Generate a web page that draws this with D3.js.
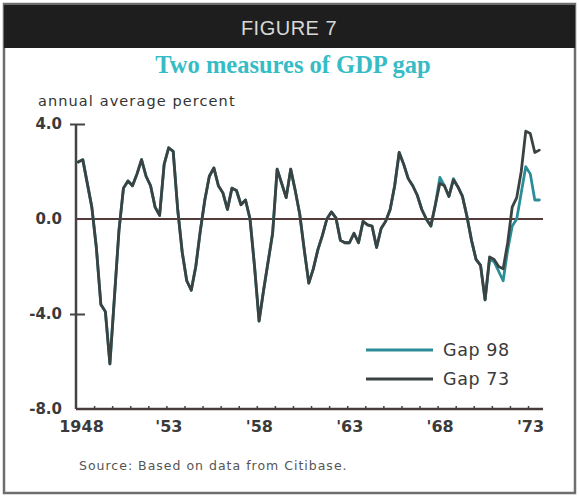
<!DOCTYPE html>
<html>
<head>
<meta charset="utf-8">
<script src="https://cdn.jsdelivr.net/npm/d3@7"></script>
<style>
  html, body { margin: 0; padding: 0; background: #fff; }
  svg { display: block; }
</style>
</head>
<body>
<svg id="chart" width="579" height="496"></svg>
<script>
// quarterly values, 1948Q1 .. 1973Q3
const startYear = 1948;
const gap73 = [
  2.4, 2.5, 1.5, 0.5,      // 1948
  -1.2, -3.6, -3.9, -6.1,  // 1949
  -3.3, -0.5, 1.3, 1.6,    // 1950
  1.4, 1.9, 2.5, 1.8,      // 1951
  1.4, 0.5, 0.15, 2.3,     // 1952
  3.0, 2.85, 0.4, -1.4,    // 1953
  -2.6, -3.0, -2.0, -0.5,  // 1954
  0.8, 1.8, 2.15, 1.4,     // 1955
  1.1, 0.4, 1.3, 1.2,      // 1956
  0.6, 0.8, 0.0, -2.0,     // 1957
  -4.3, -3.0, -1.8, -0.6,  // 1958
  2.1, 1.5, 0.9, 2.1,      // 1959
  1.2, 0.2, -1.3, -2.7,    // 1960
  -2.1, -1.3, -0.7, 0.0,   // 1961
  0.3, 0.05, -0.9, -1.0,   // 1962
  -1.0, -0.6, -1.0, -0.1,  // 1963
  -0.25, -0.3, -1.2, -0.4, // 1964
  -0.1, 0.4, 1.4, 2.8,     // 1965
  2.3, 1.7, 1.4, 1.0,      // 1966
  0.4, 0.0, -0.3, 0.6,     // 1967
  1.5, 1.4, 0.95, 1.65,    // 1968
  1.35, 0.95, 0.1, -0.9,   // 1969
  -1.7, -1.95, -3.4, -1.6, // 1970
  -1.7, -2.0, -2.1, -1.0,  // 1971
  0.5, 0.9, 2.0, 3.7,      // 1972
  3.6, 2.8, 2.9            // 1973
];
const gap98 = [
  2.4, 2.5, 1.5, 0.5,
  -1.2, -3.6, -3.9, -6.1,
  -3.3, -0.5, 1.3, 1.6,
  1.4, 1.9, 2.5, 1.8,
  1.4, 0.5, 0.15, 2.3,
  3.0, 2.85, 0.4, -1.4,
  -2.6, -3.0, -2.0, -0.5,
  0.8, 1.8, 2.15, 1.4,
  1.1, 0.4, 1.3, 1.2,
  0.6, 0.8, 0.0, -2.0,
  -4.3, -3.0, -1.8, -0.6,
  2.1, 1.5, 0.9, 2.1,
  1.2, 0.2, -1.3, -2.7,
  -2.1, -1.3, -0.7, 0.0,
  0.3, 0.05, -0.9, -1.0,
  -1.0, -0.6, -1.0, -0.1,
  -0.25, -0.3, -1.2, -0.4,
  -0.1, 0.4, 1.4, 2.8,
  2.3, 1.7, 1.4, 1.0,
  0.4, 0.0, -0.3, 0.6,
  1.75, 1.4, 0.95, 1.7,
  1.35, 0.95, 0.1, -0.9,
  -1.7, -1.95, -3.4, -1.7,
  -1.8, -2.2, -2.6, -1.3,
  -0.3, 0.0, 1.1, 2.2,
  1.9, 0.8, 0.8
];
const yTicks = [4, 0, -4, -8];
const yearLabels = [1948, 1953, 1958, 1963, 1968, 1973];
const seriesNames = ['Gap 98', 'Gap 73'];
const seriesColors = ['#2b8d97', '#3b4242'];

const svg = d3.select('#chart');

// frame + header
svg.append('rect').attr('x', 4).attr('y', 4).attr('width', 571).attr('height', 489)
  .attr('fill', '#fff').attr('stroke', '#6e6e6e').attr('stroke-width', 2.5);
svg.append('rect').attr('x', 4).attr('y', 5).attr('width', 571).attr('height', 43)
  .attr('fill', '#1e1e1e');
svg.append('text').attr('x', 289).attr('y', 35).attr('text-anchor', 'middle')
  .attr('font-family', '"Liberation Sans Narrow", "Liberation Sans", sans-serif')
  .attr('font-size', 20).attr('fill', '#d8d8d8').attr('letter-spacing', 0.5)
  .text('FIGURE 7');
svg.append('text').attr('x', 293).attr('y', 73).attr('text-anchor', 'middle')
  .attr('font-family', '"Liberation Serif", serif').attr('font-weight', 'bold')
  .attr('font-size', 24.5).attr('fill', '#36bcc6')
  .text('Two measures of GDP gap');
svg.append('text').attr('x', 38).attr('y', 106)
  .attr('font-family', '"DejaVu Sans", sans-serif').attr('font-size', 14.5).attr('fill', '#333')
  .attr('letter-spacing', 1.1)
  .text('annual average percent');

const x = d3.scaleLinear().domain([1948, 1974]).range([76, 546.1]);
const y = d3.scaleLinear().domain([-8, 4]).range([409, 124]);
const xEnd = x(1973.83);

// y axis
const gy = svg.append('g').attr('transform', `translate(${x(1948)},0)`)
  .call(d3.axisLeft(y).tickValues(yTicks).tickSize(0).tickPadding(14)
    .tickFormat(d => d.toFixed(1)));
gy.select('.domain').remove();
gy.selectAll('text').attr('font-family', '"DejaVu Sans", sans-serif')
  .attr('font-size', 15).attr('font-weight', 'bold').attr('fill', '#3a3a3a');
gy.selectAll('.tick').filter(d => d === 4 || d === -4).append('line')
  .attr('x1', -6).attr('x2', 9).attr('stroke', '#444').attr('stroke-width', 2);
svg.append('line').attr('x1', x(1948)).attr('x2', x(1948))
  .attr('y1', y(4)).attr('y2', y(-8)).attr('stroke', '#444').attr('stroke-width', 2.5);

// x axis
const gx = svg.append('g').attr('transform', `translate(0,${y(-8)})`)
  .call(d3.axisBottom(x).tickValues(d3.range(1949, 1974)).tickSize(-3).tickFormat(''));
gx.select('.domain').remove();
gx.selectAll('.tick line').attr('stroke', '#444').attr('stroke-width', 1.5);
svg.append('line').attr('x1', x(1948)).attr('x2', xEnd)
  .attr('y1', y(-8)).attr('y2', y(-8)).attr('stroke', '#4a3c3c').attr('stroke-width', 2.5);
const gl = svg.append('g').attr('transform', `translate(0,${y(-8)})`)
  .call(d3.axisBottom(x).tickValues(yearLabels).tickSize(0).tickPadding(12)
    .tickFormat(d => d === 1948 ? '1948' : "'" + String(d).slice(2)));
gl.select('.domain').remove();
gl.selectAll('text').attr('font-family', '"DejaVu Sans", sans-serif')
  .attr('font-size', 16).attr('font-weight', 'bold').attr('fill', '#3a3a3a')
  .attr('dx', d => d === 1948 ? 5 : 2);

// zero line
svg.append('line').attr('x1', x(1948)).attr('x2', xEnd)
  .attr('y1', y(0)).attr('y2', y(0)).attr('stroke', '#553a3a').attr('stroke-width', 1.8);

// series
const line = d3.line()
  .x((d, i) => x(startYear + (i + 0.5) / 4))
  .y(d => y(d));
[gap98, gap73].forEach((s, k) => {
  svg.append('path').datum(s).attr('d', line)
    .attr('fill', 'none').attr('stroke', seriesColors[k]).attr('stroke-width', 2.8)
    .attr('stroke-linejoin', 'round').attr('stroke-linecap', 'round');
});

// legend
const lg = svg.append('g');
seriesNames.forEach((n, k) => {
  const ly = 350 + k * 29;
  lg.append('line').attr('x1', 366).attr('x2', 433).attr('y1', ly).attr('y2', ly)
    .attr('stroke', seriesColors[k]).attr('stroke-width', 3);
  lg.append('text').attr('x', 443).attr('y', ly + 6)
    .attr('font-family', '"DejaVu Sans", sans-serif').attr('font-size', 17.5).attr('fill', '#3a3a3a')
    .attr('letter-spacing', 0.6)
    .text(n);
});

svg.append('text').attr('x', 79).attr('y', 470)
  .attr('font-family', '"DejaVu Sans", sans-serif').attr('font-size', 12.5).attr('fill', '#555')
  .attr('letter-spacing', 1)
  .text('Source: Based on data from Citibase.');
</script>
</body>
</html>
